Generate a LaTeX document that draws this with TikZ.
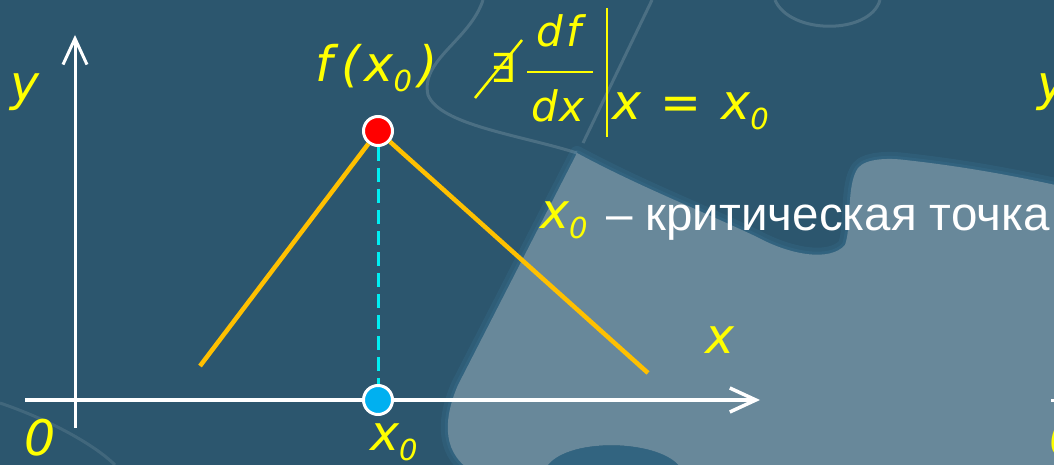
\documentclass[tikz,border=0pt]{standalone}
\usepackage{fontspec}
\setmainfont{Liberation Sans}
\newfontfamily\yf{DejaVu Sans}
\newfontfamily\symf{DejaVu Sans}
\usetikzlibrary{arrows.meta}
\definecolor{bgdark}{HTML}{2C566E}
\definecolor{bglight}{HTML}{68889A}
\definecolor{bgblue}{HTML}{38708F}
\definecolor{ylw}{HTML}{FFFF00}
\definecolor{org}{HTML}{FFC000}
\definecolor{cyn}{HTML}{00EEF2}
\definecolor{ptblue}{HTML}{00B0F0}
\newcommand\ysub[1]{\raisebox{-10pt}{\fontsize{29}{29}\selectfont #1}}
\begin{document}
\begin{tikzpicture}[x=1pt,y=-1pt,
  lbl/.style={inner sep=0pt, anchor=base west, text=ylw, font=\yf\itshape\fontsize{49}{49}\selectfont},
  fraclbl/.style={inner sep=0pt, anchor=base, text=ylw, font=\yf\itshape\fontsize{42}{42}\selectfont},
  wlbl/.style={inner sep=0pt, anchor=base west, text=white, font=\fontsize{47.5}{48}\selectfont},
  axis/.style={draw=white, line width=3pt, -{Straight Barb[length=26pt,width=24pt]}},
  pt/.style={circle, minimum size=29pt, inner sep=0pt, draw=white, line width=3pt},
  graphline/.style={draw=org, line width=4.5pt},
  guide/.style={draw=cyn, line width=3pt, dash pattern=on 14pt off 7pt},
  ystroke/.style={draw=ylw, line width=2.5pt},
  edge/.style={draw=white, line width=3pt, opacity=0.15}]
\useasboundingbox (0,0) rectangle (1054,465);
\clip (0,0) rectangle (1054,465);
% background
\fill[bgdark] (0,0) rectangle (1054,465);
\def\lightedge{(470,470) .. controls (440,450) and (445,415) .. (458,385)
  -- (577,153) .. controls (640,187) and (700,210) .. (757,237)
  .. controls (790,255) and (830,262) .. (845,245)
  .. controls (852,225) and (846,185) .. (858,168)
  .. controls (866,158) and (890,158) .. (905,160)
  .. controls (960,166) and (1010,175) .. (1060,186)}
\path[draw=bgblue, line width=14pt, opacity=0.3, line join=round] \lightedge;
\path[draw=bgblue, line width=6pt, opacity=0.35, line join=round] \lightedge;
\fill[bglight] \lightedge -- (1060,470) -- (682,470)
  .. controls (665,438) and (560,436) .. (545,470) -- cycle;
\fill[bgblue, opacity=0.55] (682,470) .. controls (665,438) and (560,436) .. (545,470) -- cycle;
\draw[edge] (483,0) .. controls (470,40) and (420,60) .. (428,95)
  .. controls (440,125) and (520,135) .. (577,153);
\draw[edge] (583,143) -- (652,0);
\draw[edge] (775,0) .. controls (790,35) and (870,35) .. (880,0);
\draw[edge, opacity=0.1] (0,403) .. controls (50,420) and (95,445) .. (115,465);
% axes
\coordinate (yb) at (75,428);
\coordinate (yt) at (75,35);
\coordinate (xl) at (25,400);
\coordinate (xr) at (760,400);
\draw[draw=white, line width=4pt, -{Straight Barb[length=26pt,width=24pt,line width=3.5pt]}] (xl) -- (xr);
\draw[axis] (yb) -- (yt);
% points
\node[pt, fill=red] (P) at (378,131) {};
\node[pt, fill=ptblue] (Q) at (378,400) {};
\coordinate (L) at (200,366);
\coordinate (R) at (648,373);
\draw[guide] (P) -- (Q);
\draw[graphline] (P) -- (L);
\draw[graphline] (P) -- (R);
% labels
\node[lbl] (ylab) at (10,101) {y};
\node[lbl] (olab) at (24,455) {0};
\node[lbl] (x0lab) at (370,450) {x\ysub{0}};
\node[lbl] (xlab) at (705,353) {x};
\node[lbl] (fx) at (315,82) {f\hspace{9pt}(\hspace{4pt}x\ysub{0}\hspace{6pt})};
\node[inner sep=0pt, anchor=base west, text=ylw, font=\symf\fontsize{40}{40}\selectfont] (ex) at (490,83) {∃};
\draw[ystroke] (475,98) -- (522,40);
\node[fraclbl] (df) at (559,47) {d\hspace{3pt}f};
\node[fraclbl] (dx) at (558,122) {d\hspace{1pt}x};
\draw[ystroke] (527,72) -- (593,72);
\draw[ystroke] (607,8) -- (607,137);
\node[lbl] (eq) at (612,120) {x\hspace{4pt} = \hspace{4pt}x\ysub{0}};
\node[lbl] (x0c) at (540,228) {x\ysub{0}};
\node[wlbl] (crit) at (606,230) {– критическая точка};
\node[lbl] (ylab2) at (1037,101) {y};
\draw[draw=white, line width=3pt] (1051,400) -- (1056,400);
\node[lbl] (olab2) at (1049,455) {0};
\end{tikzpicture}
\end{document}
